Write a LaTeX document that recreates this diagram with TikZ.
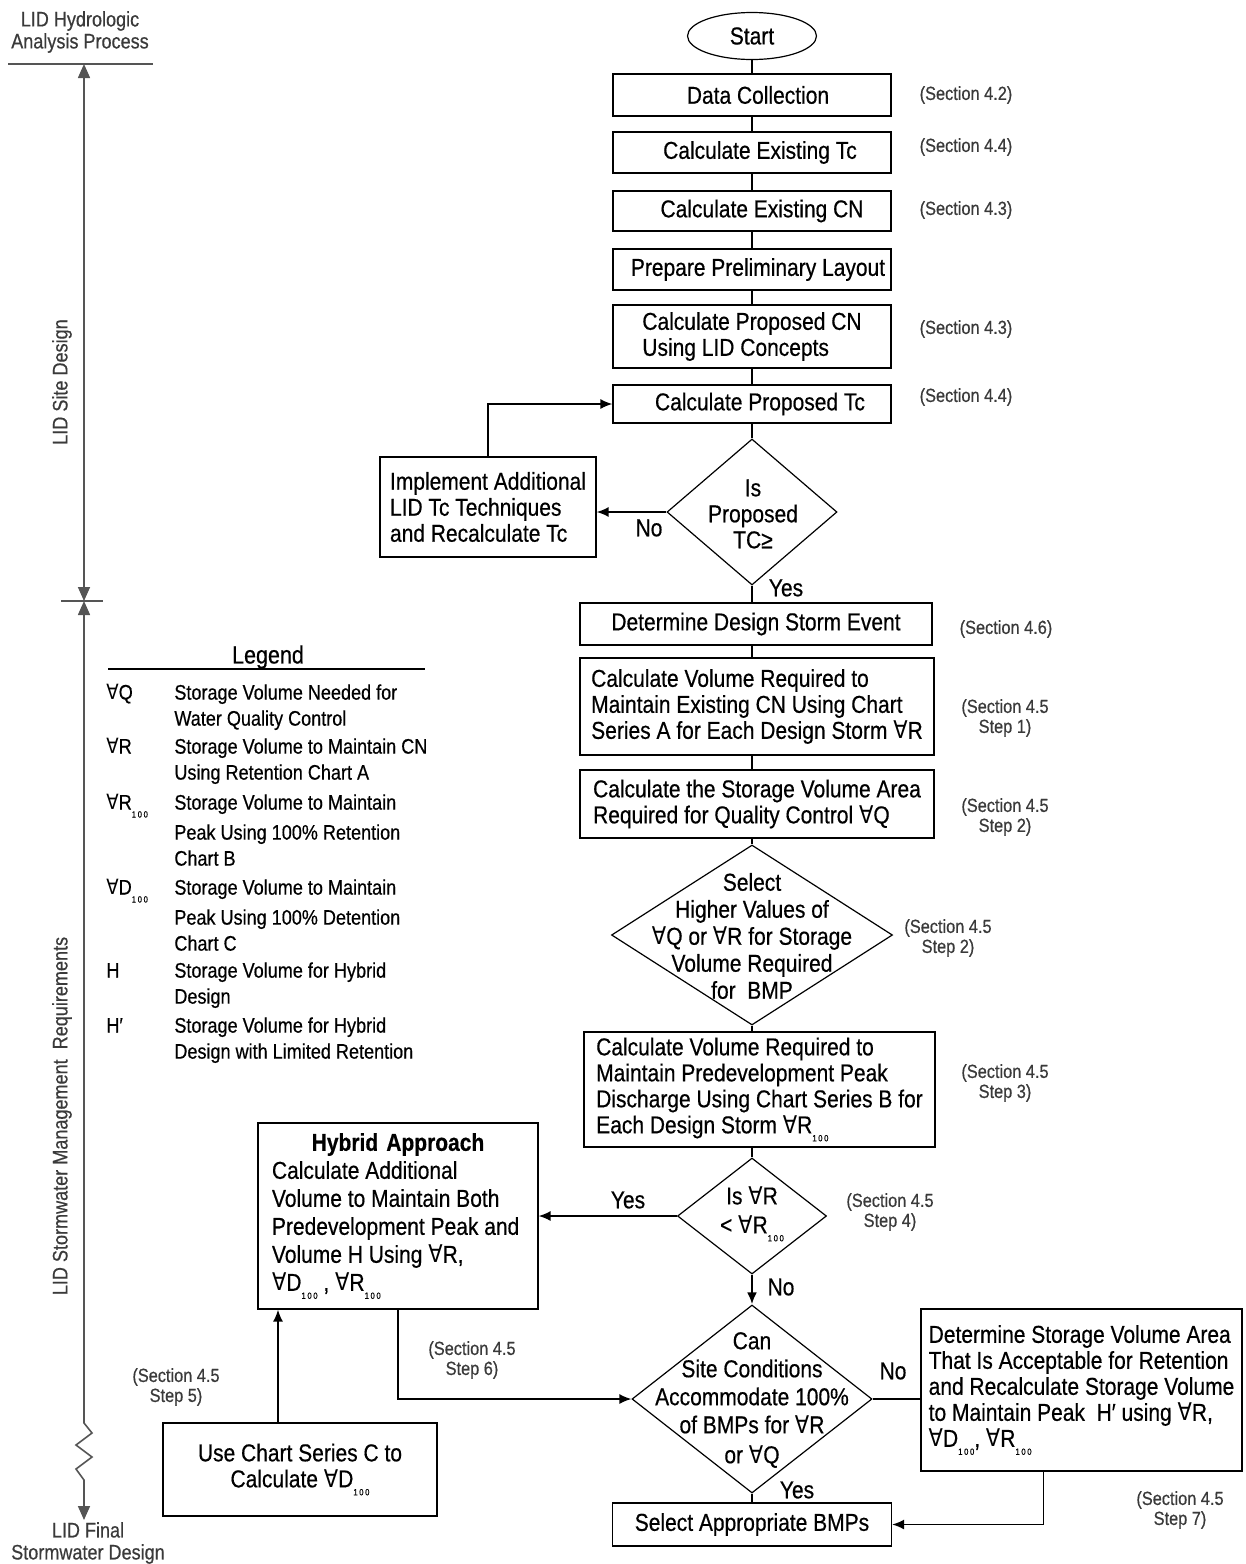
\documentclass[tikz,border=0pt]{standalone}
\usepackage{fontspec}
\setmainfont{Liberation Sans}[FakeStretch=0.86,FakeBold=0.5]
\newfontfamily\symfont{DejaVu Sans}[FakeStretch=0.86]
\usetikzlibrary{shapes.geometric,arrows.meta,positioning}

\definecolor{axisgray}{HTML}{555555}
\definecolor{secgray}{HTML}{3A3A3A}

\newcommand{\boxfont}{\fontsize{12.2}{13}\selectfont}
\newcommand{\secfont}{\fontsize{9.5}{10}\selectfont}
\newcommand{\legfont}{\fontsize{10.5}{13}\selectfont}
\newcommand{\fa}{{\symfont ∀}}
\newcommand{\hund}{\raisebox{-4pt}{\fontsize{4.5}{5}\selectfont 1\kern.8pt0\kern.8pt0}}

\begin{document}
\begin{tikzpicture}[
x=0.5pt,y=-0.5pt,
box/.style={
  draw,
  line width=0.6pt,
  inner sep=2pt,
  font=\boxfont,
  align=left
},
term/.style={
  draw,
  ellipse,
  line width=0.6pt,
  inner sep=0pt,
  minimum width=64.5pt,
  minimum height=23.5pt,
  font=\boxfont
},
dia/.style={
  draw,
  diamond,
  line width=0.6pt,
  inner sep=0pt
},
dtext/.style={font=\boxfont,align=center,inner sep=0pt},
yesno/.style={font=\boxfont,inner sep=0pt},
sec/.style={font=\secfont,text=secgray,align=center,inner sep=0pt},
axlab/.style={font=\fontsize{10.5}{11}\selectfont,text=secgray,align=center,inner sep=0pt},
legsym/.style={font=\legfont,anchor=base west,inner sep=0pt},
legdesc/.style={font=\legfont,align=left,anchor=north west,inner sep=0pt},
line/.style={line width=0.8pt},
arr/.style={line width=0.8pt,-{Latex[length=6pt,width=5pt]}},
axis/.style={draw=axisgray,line width=0.8pt,>={Triangle[length=7pt,width=6pt]}}
]
\useasboundingbox (0,0) rectangle (1246,1564);

\node[term] (start) at (752,36) {Start};
\node[box,minimum width=139pt,minimum height=21pt] (dc) at (752,95) {\hspace*{6pt}Data Collection};
\node[box,minimum width=139pt,minimum height=20.5pt] (etc) at (752,152.5) {\hspace*{8pt}Calculate Existing Tc};
\node[box,minimum width=139pt,minimum height=20pt] (ecn) at (752,211) {\hspace*{10pt}Calculate Existing CN};
\node[box,minimum width=139pt,minimum height=20.5pt] (ppl) at (752,269.5) {\hspace*{6pt}Prepare Preliminary Layout};
\node[box,minimum width=139pt,minimum height=31.5pt] (pcn) at (752,336.5)
  {Calculate Proposed CN\\Using LID Concepts};
\node[box,minimum width=139pt,minimum height=19pt] (ptc) at (752,404) {\hspace*{8pt}Calculate Proposed Tc};
\node[dia,minimum width=85pt,minimum height=73pt] (dtc) at (752,512) {};
\node[dtext] (dtct) at (753,514) {Is\\Proposed\\TC≥};
\node[box,minimum width=108pt,minimum height=50pt] (impl) at (488,507)
  {Implement Additional\\LID Tc Techniques\\and Recalculate Tc};

\node[box,minimum width=176pt,minimum height=21pt] (dse) at (756,624) {Determine Design Storm Event};
\node[box,minimum width=177pt,minimum height=48.5pt] (cvr) at (757,706.5)
  {Calculate Volume Required to\\Maintain Existing CN Using Chart\\Series A for Each Design Storm \fa R};
\node[box,minimum width=177pt,minimum height=34pt] (csv) at (757,804)
  {Calculate the Storage Volume Area\\Required for Quality Control \fa Q};
\node[dia,minimum width=140.5pt,minimum height=90pt] (sel) at (752,935) {};
\node[dtext,font={\fontsize{12.2}{13.5}\selectfont}] (selt) at (752,936)
  {Select\\Higher Values of\\\fa Q or \fa R for Storage\\Volume Required\\for\ \ BMP};
\node[box,minimum width=175.5pt,minimum height=57.5pt] (cvp) at (759.5,1089.5)
  {Calculate Volume Required to\\Maintain Predevelopment Peak\\Discharge Using Chart Series B for\\Each Design Storm \fa R\hund};
\node[dia,minimum width=74.5pt,minimum height=58pt] (isr) at (752,1216) {};
\node[dtext,font={\fontsize{12.2}{14.5}\selectfont}] (isrt) at (752,1214) {Is \fa R\\< \fa R\hund};
\node[box,minimum width=140pt,minimum height=93pt,text width=132pt,inner sep=4pt,
  font={\fontsize{12.2}{14}\selectfont}] (hyb) at (398,1216)
  {{\centering\bfseries Hybrid Approach\par}\raggedright\spaceskip=0pt\xspaceskip=0pt
  \hspace*{3pt}Calculate Additional\\\hspace*{3pt}Volume to Maintain Both\\\hspace*{3pt}Predevelopment Peak and\\\hspace*{3pt}Volume H Using \fa R,\\\hspace*{3pt}\fa D\hund\ , \fa R\hund};
\node[dia,minimum width=120pt,minimum height=94pt] (can) at (752,1399) {};
\node[dtext,font={\fontsize{12.2}{14}\selectfont}] (cant) at (752,1400)
  {Can\\Site Conditions\\Accommodate 100\%\\of BMPs for \fa R\\[1pt]or \fa Q};
\node[box,minimum width=160.5pt,minimum height=81pt] (det) at (1081.5,1390)
  {Determine Storage Volume Area\\That Is Acceptable for Retention\\and Recalculate Storage Volume\\to Maintain Peak\ \ H′ using \fa R,\\\fa D\hund, \fa R\hund};
\node[box,minimum width=139.5pt,minimum height=21.5pt] (sab) at (752,1524.5) {Select Appropriate BMPs};
\node[box,minimum width=137pt,minimum height=46.5pt,align=center] (ucs) at (300,1469.5)
  {Use Chart Series C to\\Calculate \fa D\hund};

\draw[line] (start) -- (dc);
\draw[line] (dc) -- (etc);
\draw[line] (etc) -- (ecn);
\draw[line] (ecn) -- (ppl);
\draw[line] (ppl) -- (pcn);
\draw[line] (pcn) -- (ptc);
\draw[line] (ptc) -- (dtc);
\draw[arr] (dtc.west) -- (dtc.west -| impl.east);
\draw[arr] (impl.north) |- (ptc.west);
\draw[line] (dtc) -- (dtc |- dse.north);
\draw[line] (dse.south -| dtc) -- (dtc |- cvr.north);
\draw[line] (cvr.south -| dtc) -- (dtc |- csv.north);
\draw[line] (csv.south -| sel) -- (sel);
\draw[line] (sel) -- (sel |- cvp.north);
\draw[line] (cvp.south -| isr) -- (isr);
\draw[arr] (isr) -- (hyb);
\draw[arr,line width=1.2pt] (isr) -- (can);
\draw[line] (can.east) -- (can.east -| det.west);
\draw[line] (can) -- (sab);
\draw[arr] ([xshift=-19pt]det.south) |- (sab.east);
\draw[arr] (hyb.south) |- (can.west);
\draw[arr] ([xshift=-11pt]ucs.north) -- ([xshift=-11pt]ucs.north |- hyb.south);

\node[yesno] (no1) at (649,528) {No};
\node[yesno] (yes1) at (786,588) {Yes};
\node[yesno] (yes2) at (628,1200) {Yes};
\node[yesno] (no2) at (781,1287) {No};
\node[yesno] (no3) at (893,1371) {No};
\node[yesno] (yes3) at (797,1490) {Yes};

\node[sec] (s42) at (966,95) {(Section 4.2)};
\node[sec] (s44a) at (966,147) {(Section 4.4)};
\node[sec] (s43a) at (966,210) {(Section 4.3)};
\node[sec] (s43b) at (966,329) {(Section 4.3)};
\node[sec] (s44b) at (966,397) {(Section 4.4)};
\node[sec] (s46) at (1006,629) {(Section 4.6)};
\node[sec] (s451) at (1005,718) {(Section 4.5\\Step 1)};
\node[sec] (s452a) at (1005,817) {(Section 4.5\\Step 2)};
\node[sec] (s452b) at (948,938) {(Section 4.5\\Step 2)};
\node[sec] (s453) at (1005,1083) {(Section 4.5\\Step 3)};
\node[sec] (s454) at (890,1212) {(Section 4.5\\Step 4)};
\node[sec] (s456) at (472,1360) {(Section 4.5\\Step 6)};
\node[sec] (s455) at (176,1387) {(Section 4.5\\Step 5)};
\node[sec] (s457) at (1180,1510) {(Section 4.5\\Step 7)};

\node[axlab] (axtitle) at (80,32) {LID Hydrologic\\Analysis Process};
\node[axlab] (axfinal) at (88,1543) {LID Final\\Stormwater Design};
\node[axlab,rotate=90] (sitelab) at (62,382) {LID Site Design};
\node[axlab,rotate=90] (swmlab) at (62,1116) {LID Stormwater Management\ \ Requirements};
\coordinate (hl) at (8,64);
\coordinate (hr) at (153,64);
\coordinate (axtop) at (84,64);
\coordinate (axmid) at (84,601);
\coordinate (tl) at (61,601);
\coordinate (tr) at (103,601);
\coordinate (zz) at (84,1423);
\coordinate (axbot) at (84,1520);
\draw[axis] (hl) -- (hr);
\draw[axis] (tl) -- (tr);
\draw[axis,<->] (axmid) -- (axtop);
\draw[axis,<->] (axmid) -- (zz) -- ++(8,10) -- ++(-16,12) -- ++(16,12) -- ++(-16,12) -- ++(8,11) -- (axbot);

\node[font=\fontsize{12.5}{13}\selectfont,inner sep=0pt] (legtitle) at (268,657) {Legend};
\coordinate (legl) at (108,669);
\coordinate (legr) at (425,669);
\draw[line width=0.6pt] (legl) -- (legr);
\node[legsym] (lq) at (106,699.5) {\fa Q};
\node[legdesc] (lqd) at (174,684) {Storage Volume Needed for\\Water Quality Control};
\node[legsym] (lr) at (106,753.5) {\fa R};
\node[legdesc] (lrd) at (174,738) {Storage Volume to Maintain CN\\Using Retention Chart A};
\node[legsym] (lr100) at (106,809.5) {\fa R\hund};
\node[legdesc] (lr100d) at (174,794) {Storage Volume to Maintain\\[2pt]Peak Using 100\% Retention\\Chart B};
\node[legsym] (ld100) at (106,894.5) {\fa D\hund};
\node[legdesc] (ld100d) at (174,879) {Storage Volume to Maintain\\[2pt]Peak Using 100\% Detention\\Chart C};
\node[legsym] (lh) at (106,977.5) {H};
\node[legdesc] (lhd) at (174,962) {Storage Volume for Hybrid\\Design};
\node[legsym] (lhp) at (106,1032.5) {H′};
\node[legdesc] (lhpd) at (174,1017) {Storage Volume for Hybrid\\Design with Limited Retention};
\end{tikzpicture}
\end{document}
